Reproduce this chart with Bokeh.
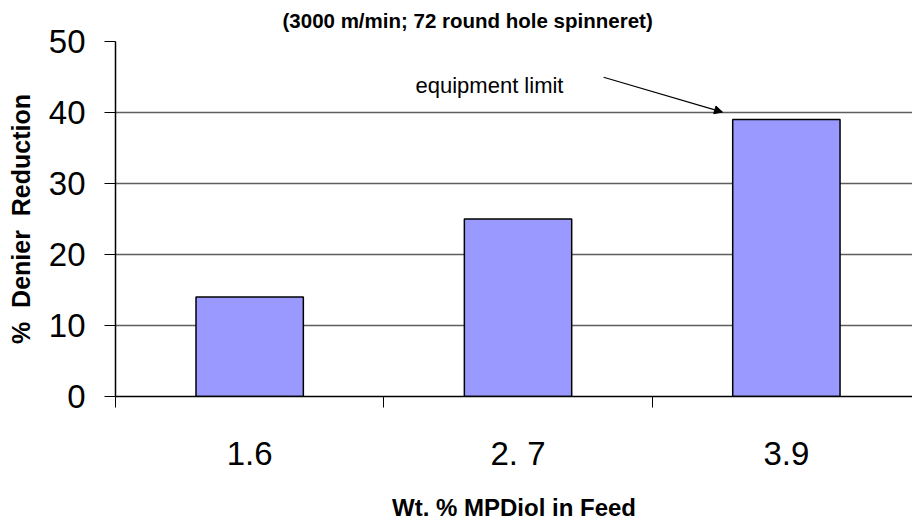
from bokeh.plotting import figure
from bokeh.models import Range1d, FixedTicker, Label, Arrow, NormalHead, LinearAxis
from bokeh.embed import file_html
from bokeh.resources import INLINE

# ---- data ----
categories = ["1.6", "2. 7", "3.9"]
reduction = [14, 25, 39]
y_ticks = [0, 10, 20, 30, 40, 50]
title_text = "(3000 m/min; 72 round hole spinneret)"
x_title = "Wt. % MPDiol in Feed"
y_title = "%\u00a0 Denier\u00a0 Reduction"
note_text = "equipment limit"

FONT = "Liberation Sans"

x_pos = [i + 0.5 for i in range(len(categories))]
boundaries = [float(i) for i in range(len(categories) + 1)]

p = figure(width=912, height=523, output_backend="svg", toolbar_location=None,
           x_range=Range1d(0, 2.97), y_range=Range1d(0, 50),
           min_border_left=115, min_border_right=0,
           min_border_top=0, min_border_bottom=127)
p.outline_line_color = None
p.background_fill_color = "white"
p.border_fill_color = "white"

# grab the real axes before adding the spacer axis
xa = p.below[0]
ya = p.left[0]

p.vbar(x=x_pos, top=reduction, width=0.4, fill_color="#9999FF",
       line_color="black", line_width=1.5)

# title
p.title.text = title_text
p.title.text_font = FONT
p.title.text_font_size = "20.5px"
p.title.text_font_style = "bold"
p.title.text_color = "black"
p.title.align = "left"
p.title.offset = 167
p.title.vertical_align = "top"
p.title.standoff = 16

# invisible spacer axis between title and frame
spacer = LinearAxis(ticker=FixedTicker(ticks=[], minor_ticks=[]),
                    axis_line_color=None, major_tick_out=15, major_tick_in=0,
                    minor_tick_out=0, minor_tick_in=0,
                    major_tick_line_color=None, minor_tick_line_color=None,
                    major_label_standoff=0)
p.add_layout(spacer, "above")

# x axis
xa.ticker = FixedTicker(ticks=x_pos, minor_ticks=boundaries)
xa.major_label_overrides = {x: c for x, c in zip(x_pos, categories)}
xa.major_tick_out = 0
xa.major_tick_in = 0
xa.minor_tick_out = 11
xa.minor_tick_in = 0
xa.minor_tick_line_color = "black"
xa.axis_line_color = "black"
xa.axis_line_width = 1.5
xa.major_label_text_font = FONT
xa.major_label_text_font_size = "33px"
xa.major_label_text_color = "black"
xa.major_label_standoff = 27
xa.axis_label = x_title
xa.axis_label_text_font = FONT
xa.axis_label_text_font_size = "24px"
xa.axis_label_text_font_style = "bold"
xa.axis_label_text_color = "black"
xa.axis_label_standoff = 19

# y axis
ya.ticker = FixedTicker(ticks=y_ticks, minor_ticks=[])
ya.major_tick_out = 11
ya.major_tick_in = 0
ya.major_tick_line_color = "black"
ya.axis_line_color = "black"
ya.axis_line_width = 1.5
ya.major_label_text_font = FONT
ya.major_label_text_font_size = "33px"
ya.major_label_text_color = "black"
ya.major_label_standoff = 19
ya.axis_label = y_title
ya.axis_label_text_font = FONT
ya.axis_label_text_font_size = "25px"
ya.axis_label_text_font_style = "bold"
ya.axis_label_text_color = "black"
ya.axis_label_standoff = 11

p.xgrid.grid_line_color = None
p.ygrid.ticker = FixedTicker(ticks=y_ticks[1:])
p.ygrid.grid_line_color = "#5e5e5e"
p.ygrid.grid_line_width = 1.5

# annotation
p.add_layout(Label(x=1.118, y=43.8, text=note_text, text_font=FONT,
                   text_font_size="22px", text_color="black",
                   text_baseline="alphabetic"))
p.add_layout(Arrow(end=NormalHead(size=8, fill_color="black", line_color="black"),
                   x_start=1.819, y_start=44.96, x_end=2.262, y_end=40.06,
                   line_color="black", line_width=1.2))

open("out.html", "w").write(file_html(p, INLINE))
